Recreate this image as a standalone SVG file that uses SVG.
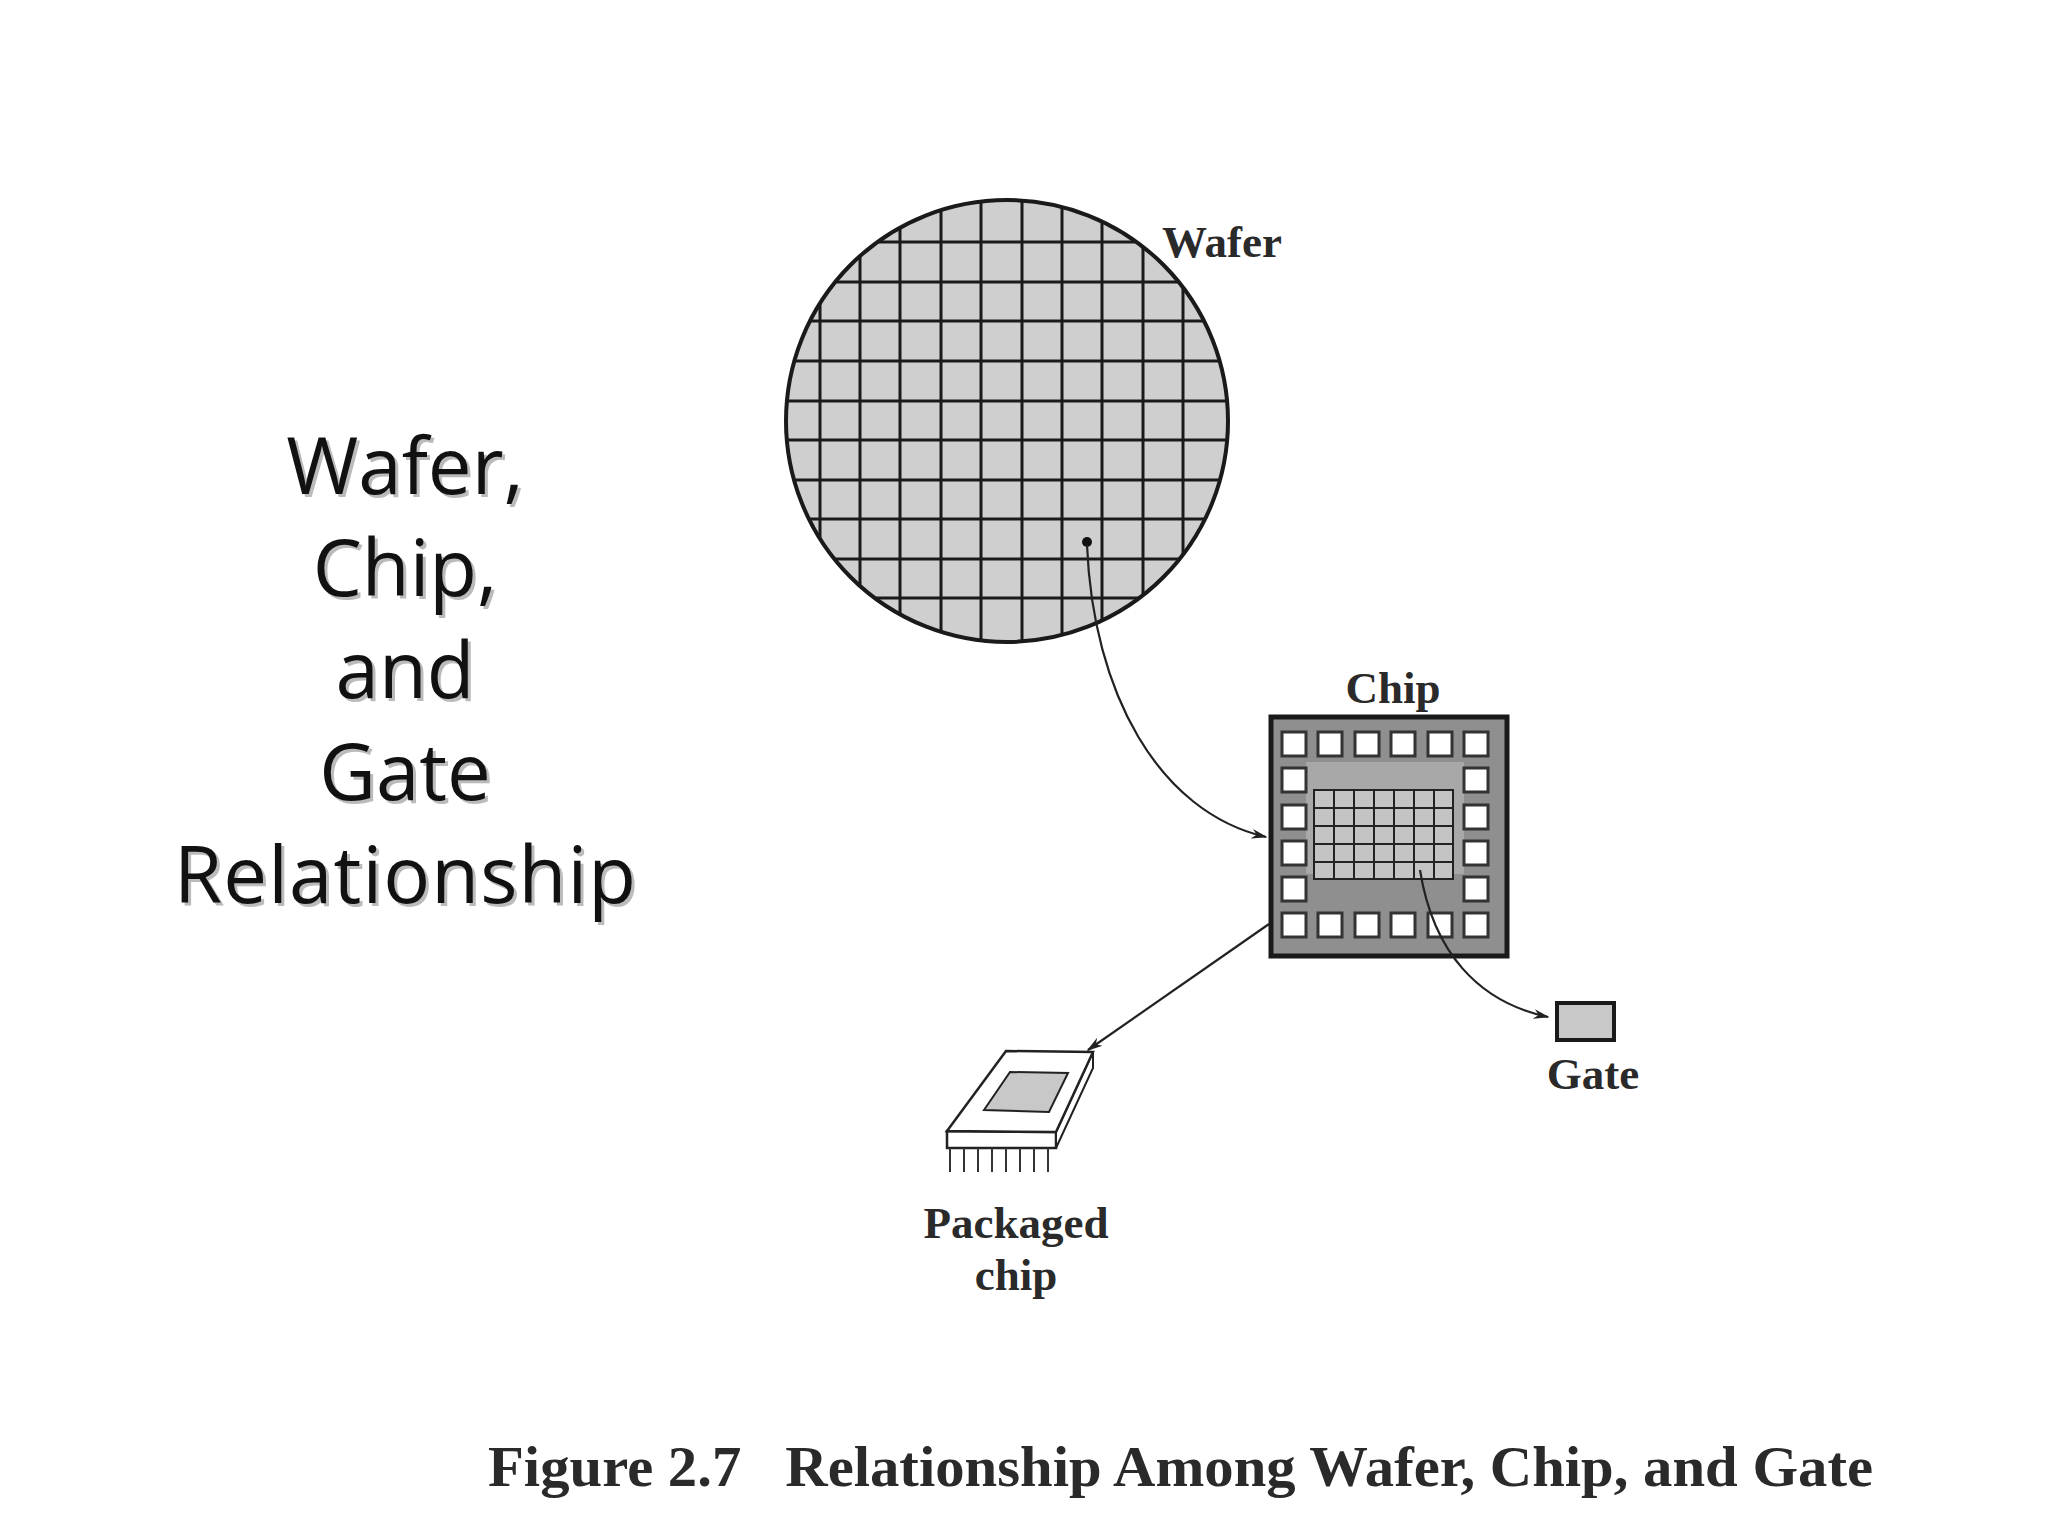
<svg xmlns="http://www.w3.org/2000/svg" width="2048" height="1536" viewBox="0 0 2048 1536">
<style>
.lbl{font-family:"Liberation Serif",serif;font-weight:bold;font-size:45px;fill:#2a2a2a;text-anchor:middle}
.ttl{font-family:"Open Sans",sans-serif;font-size:78px;fill:#111;text-anchor:middle}
.sh{fill:#bbb}
.g{stroke:#1a1a1a;stroke-width:3;fill:none}
.pad{fill:#fff;stroke:#333;stroke-width:3}
.cn{fill:none;stroke:#222;stroke-width:2.2}
</style>
<defs>
<marker id="ah" viewBox="0 0 10 10" refX="9" refY="5" markerWidth="16" markerHeight="12" orient="auto" markerUnits="userSpaceOnUse" preserveAspectRatio="none"><path d="M0,1 L10,5 L0,9 L3,5 z" fill="#222"/></marker>
<clipPath id="wc"><circle cx="1019" cy="424" r="220"/></clipPath>
</defs>
<rect width="2048" height="1536" fill="#fff"/>
<g id="title" transform="translate(0,-5)">
<g class="ttl sh" transform="translate(3,3)"><text x="405" y="499">Wafer,</text><text x="405" y="601">Chip,</text><text x="405" y="703">and</text><text x="405" y="805">Gate</text><text x="405" y="908" textLength="462">Relationship</text></g>
<g class="ttl"><text x="405" y="499">Wafer,</text><text x="405" y="601">Chip,</text><text x="405" y="703">and</text><text x="405" y="805">Gate</text><text x="405" y="908" textLength="462">Relationship</text></g>
</g>
<g transform="translate(-12,-8)">
<g id="wafer" transform="translate(0,5)">
<circle cx="1019" cy="424" r="221" fill="#cfcfcf"/>
<g clip-path="url(#wc)" class="g">
<path d="M832,150V700M872,150V700M912,150V700M953,150V700M993,150V700M1034,150V700M1074,150V700M1114,150V700M1155,150V700M1195,150V700"/>
<path d="M780,245H1260M780,285H1260M780,324H1260M780,364H1260M780,404H1260M780,443H1260M780,483H1260M780,522H1260M780,562H1260M780,601H1260"/>
</g>
<circle cx="1019" cy="424" r="221" fill="none" stroke="#1a1a1a" stroke-width="4"/>
<text class="lbl" x="1234" y="260">Wafer</text>
</g>
<g id="chip">
<rect x="1283" y="725" width="236" height="239" fill="#8f8f8f" stroke="#1a1a1a" stroke-width="5"/>
<rect x="1318" y="770" width="158" height="112" fill="#a8a8a8"/>
<rect x="1326" y="798" width="139" height="89" fill="#c4c4c4"/>
<g stroke="#222" stroke-width="2" fill="none">
<path d="M1326,798h139v89h-139z M1346,798v89M1366,798v89M1386,798v89M1406,798v89M1426,798v89M1446,798v89 M1326,816h139M1326,834h139M1326,852h139M1326,870h139"/>
</g>
<g class="pad">
<rect x="1294" y="740" width="24" height="24"/><rect x="1330" y="740" width="24" height="24"/><rect x="1367" y="740" width="24" height="24"/><rect x="1403" y="740" width="24" height="24"/><rect x="1440" y="740" width="24" height="24"/><rect x="1476" y="740" width="24" height="24"/>
<rect x="1294" y="921" width="24" height="24"/><rect x="1330" y="921" width="24" height="24"/><rect x="1367" y="921" width="24" height="24"/><rect x="1403" y="921" width="24" height="24"/><rect x="1440" y="921" width="24" height="24"/><rect x="1476" y="921" width="24" height="24"/>
<rect x="1294" y="776" width="24" height="24"/><rect x="1294" y="813" width="24" height="24"/><rect x="1294" y="849" width="24" height="24"/><rect x="1294" y="885" width="24" height="24"/>
<rect x="1476" y="776" width="24" height="24"/><rect x="1476" y="813" width="24" height="24"/><rect x="1476" y="849" width="24" height="24"/><rect x="1476" y="885" width="24" height="24"/>
</g>
<text class="lbl" x="1405" y="711">Chip</text>
</g>
<g id="gate">
<rect x="1569" y="1011" width="57" height="37" fill="#c8c8c8" stroke="#1a1a1a" stroke-width="4"/>
<text class="lbl" x="1605" y="1097">Gate</text>
</g>
<g id="packaged" transform="translate(8,4)">
<path d="M951,1135 L1060,1136 L1060,1152 L951,1152 z" fill="#fff" stroke="#222" stroke-width="2.5"/>
<path d="M1060,1136 L1097,1056 L1097,1072 L1060,1152 z" fill="#fff" stroke="#222" stroke-width="2"/>
<path d="M1010,1055 L1097,1056 L1060,1136 L951,1135 z" fill="#fff" stroke="#222" stroke-width="2.5"/>
<path d="M1014,1076 L1072,1077 L1053,1116 L988,1114 z" fill="#c8c8c8" stroke="#222" stroke-width="2"/>
<path d="M954,1152v24M968,1152v24M982,1152v24M996,1152v24M1010,1152v24M1024,1152v24M1038,1152v24M1052,1152v24" stroke="#333" stroke-width="2"/>
<text class="lbl" x="1020" y="1242">Packaged</text>
<text class="lbl" x="1020" y="1294">chip</text>
</g>
<g id="connectors">
<circle cx="1099" cy="550" r="5" fill="#111"/>
<path class="cn" d="M1099,553 C1105,700 1170,820 1278,845" marker-end="url(#ah)"/>
<path class="cn" d="M1432,878 C1445,960 1490,1010 1560,1025" marker-end="url(#ah)"/>
<path class="cn" d="M1281,932 L1100,1058" marker-end="url(#ah)"/>
</g>
</g>
<text x="488" y="1486" textLength="1385" lengthAdjust="spacingAndGlyphs" xml:space="preserve" style="font-family:'Liberation Serif',serif;font-weight:bold;font-size:56px;fill:#2a2a2a">Figure 2.7   Relationship Among Wafer, Chip, and Gate</text>
</svg>
